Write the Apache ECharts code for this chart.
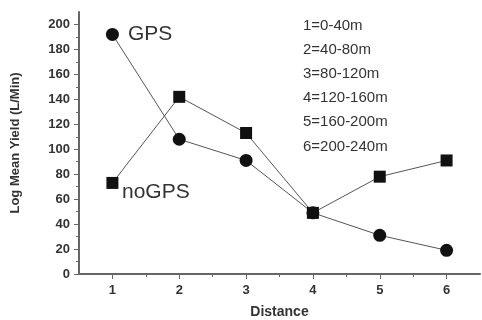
<!DOCTYPE html>
<html><head><meta charset="utf-8">
<script src="https://cdn.jsdelivr.net/npm/echarts@6/dist/echarts.min.js"></script>
<style>html,body{margin:0;padding:0;background:#fff}#c{width:482px;height:320px}</style>
</head><body><div id="c"></div>
<script>
const distances = [1, 2, 3, 4, 5, 6];
const gpsValues = [192, 108, 91, 49, 31, 19];
const noGpsValues = [73, 142, 113, 49, 78, 91];
const xTickLabels = [1, 2, 3, 4, 5, 6];
const xMinorTicks = [1.5, 2.5, 3.5, 4.5, 5.5];
const yTickLabels = [0, 20, 40, 60, 80, 100, 120, 140, 160, 180, 200];
const yMinorTicks = [10, 30, 50, 70, 90, 110, 130, 150, 170, 190];
const rangeNotes = ['1=0-40m', '2=40-80m', '3=80-120m', '4=120-160m', '5=160-200m', '6=200-240m'];

const axisColor = '#666';
const font = 'Liberation Sans, Arial, sans-serif';
const chart = echarts.init(document.getElementById('c'));
const grid = { left: 79, right: 2, top: 12, bottom: 46, outerBoundsMode: 'none', containLabel: false };
chart.setOption({
  animation: false,
  backgroundColor: '#fff',
  grid: grid,
  xAxis: [{
    type: 'value', min: 0.5, max: 6.5, interval: 0.5,
    name: 'Distance', nameLocation: 'middle', nameGap: 31,
    nameTextStyle: { fontFamily: font, fontWeight: 'bold', fontSize: 14, color: '#333' },
    axisLine: { lineStyle: { color: axisColor, width: 2 } },
    axisTick: { show: true, length: 5, lineStyle: { color: axisColor, width: 1 }, customValues: xTickLabels },
    axisLabel: { customValues: xTickLabels, fontFamily: font, fontWeight: 'bold', fontSize: 13, color: '#333', margin: 10 },
    splitLine: { show: false }
  }, {
    type: 'value', min: 0.5, max: 6.5, interval: 0.5, position: 'bottom',
    axisLine: { show: false },
    axisTick: { show: true, length: 3, lineStyle: { color: axisColor, width: 1 }, customValues: xMinorTicks },
    axisLabel: { show: false }, splitLine: { show: false }
  }],
  yAxis: [{
    type: 'value', min: 0, max: 210, interval: 10,
    name: 'Log Mean Yield (L/Min)', nameLocation: 'middle', nameGap: 57,
    nameTextStyle: { fontFamily: font, fontWeight: 'bold', fontSize: 13, color: '#333' },
    axisLine: { show: true, lineStyle: { color: axisColor, width: 2 } },
    axisTick: { show: true, length: 5, lineStyle: { color: axisColor, width: 1 }, customValues: yTickLabels },
    axisLabel: { customValues: yTickLabels, fontFamily: font, fontWeight: 'bold', fontSize: 13, color: '#333', margin: 9 },
    splitLine: { show: false }
  }, {
    type: 'value', min: 0, max: 210, interval: 10, position: 'left',
    axisLine: { show: false },
    axisTick: { show: true, length: 3, lineStyle: { color: axisColor, width: 1 }, customValues: yMinorTicks },
    axisLabel: { show: false }, splitLine: { show: false }
  }],
  series: [{
    name: 'GPS', type: 'line',
    data: distances.map((d, i) => [d, gpsValues[i]]),
    symbol: 'circle', symbolSize: 13,
    itemStyle: { color: '#111' },
    lineStyle: { color: '#555', width: 1 }
  }, {
    name: 'noGPS', type: 'line',
    data: distances.map((d, i) => [d, noGpsValues[i]]),
    symbol: 'rect', symbolSize: 12,
    itemStyle: { color: '#111' },
    lineStyle: { color: '#555', width: 1 }
  }],
  graphic: [
    { type: 'text', left: 128, top: 24, style: { text: 'GPS', font: '21px ' + font, fill: '#333' } },
    { type: 'text', left: 122, top: 182, style: { text: 'noGPS', font: '21px ' + font, fill: '#333' } }
  ].concat(rangeNotes.map((t, i) => ({
    type: 'text', left: 303, top: 18 + i * 24.2,
    style: { text: t, font: '15px ' + font, fill: '#333' }
  })))
});
</script></body></html>
